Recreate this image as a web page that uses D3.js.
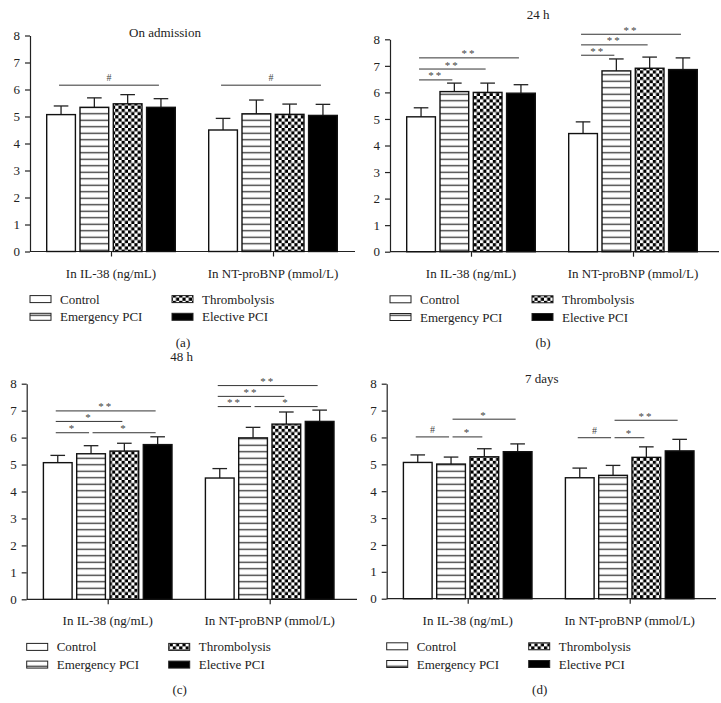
<!DOCTYPE html>
<html><head><meta charset="utf-8">
<script src="https://cdn.jsdelivr.net/npm/d3@7"></script>
<style>
html,body{margin:0;padding:0;background:#fff;}
svg{display:block;}
</style></head>
<body>
<script>
// ---------------- DATA ----------------
const categories = ["In IL-38 (ng/mL)", "In NT-proBNP (mmol/L)"];
const seriesNames = ["Control", "Emergency PCI", "Thrombolysis", "Elective PCI"];
const yTickValues = [0, 1, 2, 3, 4, 5, 6, 7, 8];
const panelTitles = ["On admission", "24 h", "48 h", "7 days"];
const panelLabels = ["(a)", "(b)", "(c)", "(d)"];

// means per panel: [category][series]
const meansAdmission = [[5.07, 5.34, 5.47, 5.34], [4.50, 5.10, 5.08, 5.04]];
const errAdmission   = [[0.32, 0.35, 0.34, 0.32], [0.43, 0.51, 0.38, 0.41]];
const means24h = [[5.08, 6.03, 6.00, 5.97], [4.45, 6.81, 6.91, 6.86]];
const err24h   = [[0.34, 0.32, 0.35, 0.32], [0.44, 0.45, 0.42, 0.44]];
const means48h = [[5.07, 5.40, 5.50, 5.74], [4.50, 5.99, 6.50, 6.60]];
const err48h   = [[0.27, 0.30, 0.29, 0.29], [0.35, 0.39, 0.45, 0.42]];
const means7d  = [[5.07, 5.01, 5.28, 5.47], [4.50, 4.59, 5.26, 5.50]];
const err7d    = [[0.28, 0.26, 0.30, 0.29], [0.36, 0.37, 0.39, 0.43]];

// significance brackets: [category, fromSeries, toSeries, level (value units), label]
const sigAdmission = [[0,0,3,6.16,"#"],[1,0,3,6.16,"#"]];
const sig24h = [[0,0,1,6.47,"**"],[0,0,2,6.88,"**"],[0,0,3,7.30,"**"],
                [1,0,1,7.40,"**"],[1,0,2,7.79,"**"],[1,0,3,8.19,"**"]];
const sig48h = [[0,0,1,6.18,"*"],[0,1,3,6.18,"*"],[0,0,2,6.60,"*"],[0,0,3,6.99,"**"],
                [1,0,1,7.15,"**"],[1,1,3,7.15,"*"],[1,0,2,7.53,"**"],[1,0,3,7.93,"**"]];
const sig7d = [[0,0,1,6.02,"#"],[0,1,2,6.02,"*"],[0,1,3,6.68,"*"],
               [1,0,1,5.99,"#"],[1,1,2,5.99,"*"],[1,1,3,6.64,"**"]];

const panelMeans = [meansAdmission, means24h, means48h, means7d];
const panelErrs = [errAdmission, err24h, err48h, err7d];
const panelSigs = [sigAdmission, sig24h, sig48h, sig7d];

// ---------------- LAYOUT ----------------
const W = 721, H = 703;
const FONT = '"Liberation Serif", "Times New Roman", Times, serif';
const layouts = [
  {ax: 30,   y0: 251.5, y8: 35.5,  xr: 355, title: [135, 37]},
  {ax: 390,  y0: 251.7, y8: 39.3,  xr: 719, title: [148, 19]},
  {ax: 26.7, y0: 599.3, y8: 383.7, xr: 357, title: [155, 361]},
  {ax: 386.7,y0: 598.7, y8: 383.7, xr: 716, title: [155, 383]}
];
const fills = ["#fff", "url(#hatch)", "url(#checker)", "#000"];

const svg = d3.select("body").append("svg").attr("width", W).attr("height", H)
  .style("background", "#fff");

const defs = svg.append("defs");
const hatch = defs.append("pattern").attr("id", "hatch").attr("patternUnits", "userSpaceOnUse")
  .attr("width", 4).attr("height", 6.5);
hatch.append("rect").attr("width", 4).attr("height", 6.5).attr("fill", "#fff");
hatch.append("rect").attr("y", 2.6).attr("width", 4).attr("height", 1.3).attr("fill", "#333");

const cs = 3.2;
const checker = defs.append("pattern").attr("id", "checker").attr("patternUnits", "userSpaceOnUse")
  .attr("width", cs * 2).attr("height", cs * 2);
checker.append("rect").attr("width", cs * 2).attr("height", cs * 2).attr("fill", "#fff");
checker.append("rect").attr("width", cs).attr("height", cs).attr("fill", "#000");
checker.append("rect").attr("x", cs).attr("y", cs).attr("width", cs).attr("height", cs).attr("fill", "#000");

function txt(sel, size) {
  return sel.attr("font-family", FONT).attr("font-size", size).attr("fill", "#222")
    .style("font-family", FONT);
}

layouts.forEach((L, p) => {
  const g = svg.append("g");
  const y = d3.scaleLinear().domain([0, 8]).range([L.y0, L.y8]);
  const x0 = d3.scalePoint().domain(categories).range([L.ax + 81, L.ax + 243]);
  const x1 = d3.scaleBand().domain(seriesNames).range([-64.3, 64.3]).paddingInner(0.138);
  const bw = x1.bandwidth();
  const cx = (ci, si) => x0(categories[ci]) + x1(seriesNames[si]) + bw / 2;

  // y axis
  const yAxis = g.append("g").attr("transform", `translate(${L.ax},0)`)
    .call(d3.axisLeft(y).tickValues(yTickValues).tickSize(5).tickSizeOuter(0).tickPadding(5));
  yAxis.attr("font-family", FONT).attr("font-size", 13);
  yAxis.selectAll("path,line").attr("stroke", "#222").attr("stroke-width", 1.2);
  txt(yAxis.selectAll("text"), 13);

  // x axis
  const xAxis = g.append("g").attr("transform", `translate(0,${L.y0})`)
    .call(d3.axisBottom(x0).tickSize(5).tickSizeOuter(0).tickFormat(""));
  xAxis.select(".domain").remove();
  xAxis.selectAll("line").attr("stroke", "#222").attr("stroke-width", 1.2);
  g.append("line").attr("x1", L.ax).attr("x2", L.xr).attr("y1", L.y0).attr("y2", L.y0)
    .attr("stroke", "#222").attr("stroke-width", 1.2);

  // bars
  const means = panelMeans[p], errs = panelErrs[p];
  const rows = [];
  categories.forEach((c, ci) => seriesNames.forEach((s, si) =>
    rows.push({ci, si, v: means[ci][si], e: errs[ci][si]})));

  g.selectAll(".err").data(rows).join("line").attr("class", "err")
    .attr("x1", d => cx(d.ci, d.si)).attr("x2", d => cx(d.ci, d.si))
    .attr("y1", d => y(d.v)).attr("y2", d => y(d.v + d.e))
    .attr("stroke", "#222").attr("stroke-width", 1.3);
  g.selectAll(".cap").data(rows).join("line").attr("class", "cap")
    .attr("x1", d => cx(d.ci, d.si) - 7.3).attr("x2", d => cx(d.ci, d.si) + 7.3)
    .attr("y1", d => y(d.v + d.e)).attr("y2", d => y(d.v + d.e))
    .attr("stroke", "#222").attr("stroke-width", 1.3);

  g.selectAll(".bar").data(rows).join("rect").attr("class", "bar")
    .attr("x", d => x0(categories[d.ci]) + x1(seriesNames[d.si]))
    .attr("width", bw)
    .attr("y", d => y(d.v)).attr("height", d => L.y0 - y(d.v))
    .attr("fill", d => fills[d.si]).attr("stroke", "#111").attr("stroke-width", 1.4);

  // significance brackets
  panelSigs[p].forEach(([ci, a, b, lvl, lab]) => {
    const xa = cx(ci, a) + (a === 0 ? -2 : 1.5);
    const xb = cx(ci, b) - 2;
    const yy = y(lvl);
    g.append("line").attr("x1", xa).attr("x2", xb).attr("y1", yy).attr("y2", yy)
      .attr("stroke", "#333").attr("stroke-width", 1);
    const isHash = lab === "#";
    txt(g.append("text"), isHash ? 10 : 11)
      .attr("x", (xa + xb) / 2).attr("y", isHash ? yy - 4 : yy - 0.5)
      .attr("text-anchor", "middle")
      .attr("letter-spacing", isHash ? 0 : 2)
      .attr("fill", "#444").text(lab);
  });

  // title
  txt(g.append("text"), 13).attr("x", L.ax + L.title[0]).attr("y", L.title[1])
    .attr("text-anchor", "middle").text(panelTitles[p]);

  // category labels
  categories.forEach(c => {
    txt(g.append("text"), 13).attr("x", x0(c)).attr("y", L.y0 + 26)
      .attr("text-anchor", "middle").text(c);
  });

  // legend
  const legPos = [[0, 0], [0, 1], [142, 0], [142, 1]];
  seriesNames.forEach((s, si) => {
    const [lx, row] = legPos[si];
    const ly = L.y0 + 47.6 + row * 17.7;
    g.append("rect").attr("x", L.ax + lx).attr("y", ly - 3.5).attr("width", 21).attr("height", 7)
      .attr("fill", fills[si]).attr("stroke", "#222").attr("stroke-width", 1);
    txt(g.append("text"), 13).attr("x", L.ax + lx + 30).attr("y", ly + 4.5).text(s);
  });

  // panel label
  txt(g.append("text"), 13).attr("x", L.ax + 153).attr("y", L.y0 + 95)
    .attr("text-anchor", "middle").text(panelLabels[p]);
});
</script>
</body></html>
